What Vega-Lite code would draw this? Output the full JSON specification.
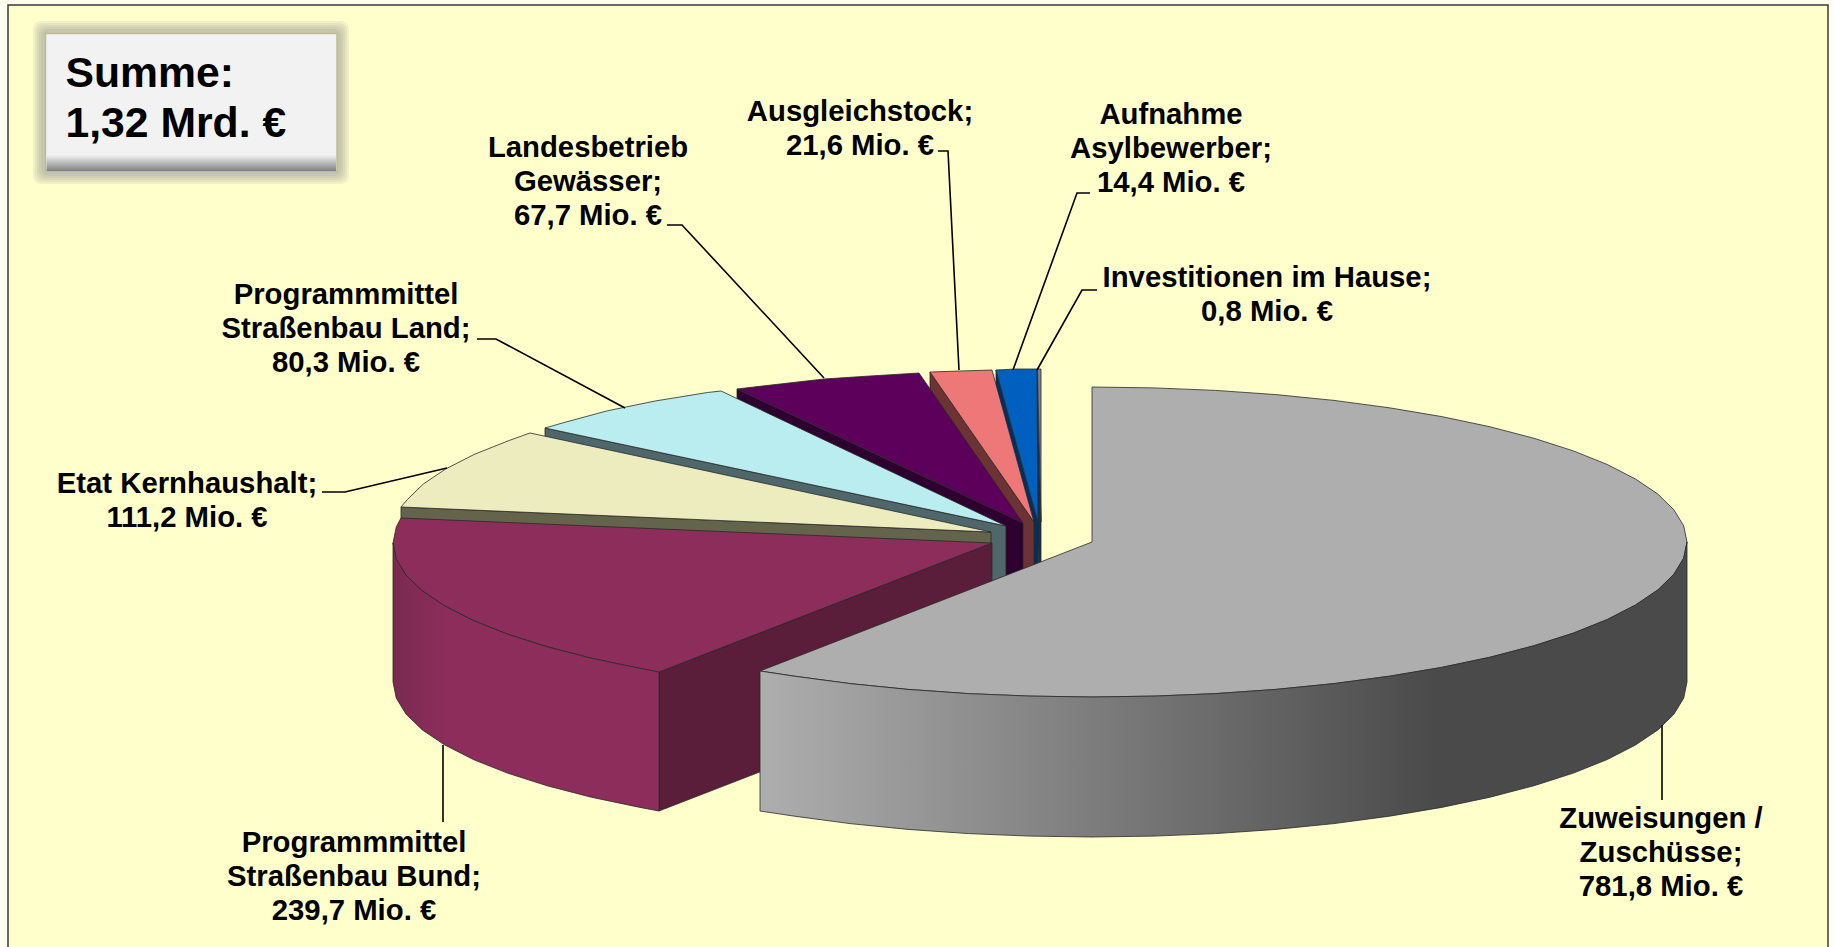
{"$schema":"https://vega.github.io/schema/vega-lite/v6.json","width":1834,"height":947,"padding":0,"autosize":{"type":"none"},"background":"#FFFFF0","view":{"stroke":null},
"datasets":{
"frame":[{"x":8,"x2":1828,"y":5,"y2":960}],
"shadow":[{"x":33,"x2":349,"y":21,"y2":184},{"x":35,"x2":347,"y":23,"y2":182},{"x":37,"x2":345,"y":25,"y2":180},{"x":39,"x2":343,"y":27,"y2":178},{"x":41,"x2":341,"y":29,"y2":176}],
"box":[{"x":45.5,"x2":337,"y":33.5,"y2":171.5}],
"boxFoot":[{"x":46.5,"x2":336,"y":155,"y2":171}],
"faces":[
{"id":"inv-side","i":0,"x":1041,"y":522},{"id":"inv-side","i":1,"x":1037,"y":369},{"id":"inv-side","i":2,"x":1037,"y":509},{"id":"inv-side","i":3,"x":1041,"y":662},{"id":"inv-side","i":4,"x":1041,"y":522},
{"id":"inv-top","i":0,"x":1041,"y":522},{"id":"inv-top","i":1,"x":1037.5,"y":369},{"id":"inv-top","i":2,"x":1041,"y":369},{"id":"inv-top","i":3,"x":1041,"y":522},
{"id":"blue-side","i":0,"x":1038,"y":522},{"id":"blue-side","i":1,"x":996,"y":370},{"id":"blue-side","i":2,"x":996,"y":510},{"id":"blue-side","i":3,"x":1038,"y":662},{"id":"blue-side","i":4,"x":1038,"y":522},
{"id":"blue-top","i":0,"x":1038,"y":522},{"id":"blue-top","i":1,"x":996,"y":370},{"id":"blue-top","i":2,"x":1016,"y":369},{"id":"blue-top","i":3,"x":1037,"y":369},{"id":"blue-top","i":4,"x":1038,"y":522},
{"id":"salmon-side","i":0,"x":1034,"y":522},{"id":"salmon-side","i":1,"x":930,"y":372},{"id":"salmon-side","i":2,"x":930,"y":512},{"id":"salmon-side","i":3,"x":1034,"y":662},{"id":"salmon-side","i":4,"x":1034,"y":522},
{"id":"salmon-top","i":0,"x":1034,"y":522},{"id":"salmon-top","i":1,"x":930,"y":372},{"id":"salmon-top","i":2,"x":960,"y":371},{"id":"salmon-top","i":3,"x":992,"y":370},{"id":"salmon-top","i":4,"x":1034,"y":522},
{"id":"purple-side","i":0,"x":1023,"y":523},{"id":"purple-side","i":1,"x":737,"y":389},{"id":"purple-side","i":2,"x":737,"y":529},{"id":"purple-side","i":3,"x":1023,"y":663},{"id":"purple-side","i":4,"x":1023,"y":523},
{"id":"purple-top","i":0,"x":1023,"y":523},{"id":"purple-top","i":1,"x":737,"y":389},{"id":"purple-top","i":2,"x":780,"y":384},{"id":"purple-top","i":3,"x":824,"y":379},{"id":"purple-top","i":4,"x":870,"y":376},{"id":"purple-top","i":5,"x":919,"y":373},{"id":"purple-top","i":6,"x":1023,"y":523},
{"id":"cyan-side","i":0,"x":1006,"y":526},{"id":"cyan-side","i":1,"x":545,"y":428},{"id":"cyan-side","i":2,"x":545,"y":568},{"id":"cyan-side","i":3,"x":1006,"y":666},{"id":"cyan-side","i":4,"x":1006,"y":526},
{"id":"cyan-top","i":0,"x":1006,"y":526},{"id":"cyan-top","i":1,"x":545,"y":428},{"id":"cyan-top","i":2,"x":562.4,"y":423},{"id":"cyan-top","i":3,"x":606.6,"y":411},{"id":"cyan-top","i":4,"x":655.1,"y":401},{"id":"cyan-top","i":5,"x":707.5,"y":392.5},{"id":"cyan-top","i":6,"x":721,"y":391},{"id":"cyan-top","i":7,"x":1006,"y":526},
{"id":"beige-side","i":0,"x":991,"y":532},{"id":"beige-side","i":1,"x":401,"y":507},{"id":"beige-side","i":2,"x":401,"y":647},{"id":"beige-side","i":3,"x":991,"y":672},{"id":"beige-side","i":4,"x":991,"y":532},
{"id":"beige-top","i":0,"x":991,"y":532},{"id":"beige-top","i":1,"x":401,"y":507},{"id":"beige-top","i":2,"x":407.1,"y":499.8},{"id":"beige-top","i":3,"x":423.2,"y":484.1},{"id":"beige-top","i":4,"x":445.6,"y":469},{"id":"beige-top","i":5,"x":474,"y":454.5},{"id":"beige-top","i":6,"x":508,"y":440.9},{"id":"beige-top","i":7,"x":530,"y":433},{"id":"beige-top","i":8,"x":991,"y":532},
{"id":"maroon-inner","i":0,"x":992,"y":543},{"id":"maroon-inner","i":1,"x":659,"y":672},{"id":"maroon-inner","i":2,"x":659,"y":811},{"id":"maroon-inner","i":3,"x":992,"y":682},{"id":"maroon-inner","i":4,"x":992,"y":543},
{"id":"maroon-top","i":0,"x":992,"y":543},{"id":"maroon-top","i":1,"x":401,"y":518},{"id":"maroon-top","i":2,"x":396.3,"y":526.8},{"id":"maroon-top","i":3,"x":393,"y":543},{"id":"maroon-top","i":4,"x":396.3,"y":559.2},{"id":"maroon-top","i":5,"x":406.1,"y":575.2},{"id":"maroon-top","i":6,"x":422.3,"y":590.9},{"id":"maroon-top","i":7,"x":444.8,"y":606},{"id":"maroon-top","i":8,"x":473.3,"y":620.5},{"id":"maroon-top","i":9,"x":507.4,"y":634.1},{"id":"maroon-top","i":10,"x":546.9,"y":646.7},{"id":"maroon-top","i":11,"x":591.2,"y":658.2},{"id":"maroon-top","i":12,"x":639.9,"y":668.4},{"id":"maroon-top","i":13,"x":659,"y":672},{"id":"maroon-top","i":14,"x":992,"y":543},
{"id":"gray-top","i":0,"x":1092,"y":542},{"id":"gray-top","i":1,"x":1092,"y":387},{"id":"gray-top","i":2,"x":1154.2,"y":387.9},{"id":"gray-top","i":3,"x":1215.7,"y":390.4},{"id":"gray-top","i":4,"x":1275.9,"y":394.6},{"id":"gray-top","i":5,"x":1334,"y":400.4},{"id":"gray-top","i":6,"x":1389.5,"y":407.8},{"id":"gray-top","i":7,"x":1441.7,"y":416.6},{"id":"gray-top","i":8,"x":1490.1,"y":426.8},{"id":"gray-top","i":9,"x":1534.1,"y":438.3},{"id":"gray-top","i":10,"x":1573.4,"y":450.9},{"id":"gray-top","i":11,"x":1607.3,"y":464.5},{"id":"gray-top","i":12,"x":1635.5,"y":479},{"id":"gray-top","i":13,"x":1657.9,"y":494.1},{"id":"gray-top","i":14,"x":1673.9,"y":509.8},{"id":"gray-top","i":15,"x":1683.7,"y":525.8},{"id":"gray-top","i":16,"x":1687,"y":542},{"id":"gray-top","i":17,"x":1683.7,"y":558.2},{"id":"gray-top","i":18,"x":1673.9,"y":574.2},{"id":"gray-top","i":19,"x":1657.9,"y":589.9},{"id":"gray-top","i":20,"x":1635.5,"y":605},{"id":"gray-top","i":21,"x":1607.3,"y":619.5},{"id":"gray-top","i":22,"x":1573.4,"y":633.1},{"id":"gray-top","i":23,"x":1534.1,"y":645.7},{"id":"gray-top","i":24,"x":1490.1,"y":657.2},{"id":"gray-top","i":25,"x":1441.7,"y":667.4},{"id":"gray-top","i":26,"x":1389.5,"y":676.2},{"id":"gray-top","i":27,"x":1334,"y":683.6},{"id":"gray-top","i":28,"x":1275.9,"y":689.4},{"id":"gray-top","i":29,"x":1215.7,"y":693.6},{"id":"gray-top","i":30,"x":1154.2,"y":696.1},{"id":"gray-top","i":31,"x":1092,"y":697},{"id":"gray-top","i":32,"x":1029.8,"y":696.1},{"id":"gray-top","i":33,"x":968.3,"y":693.6},{"id":"gray-top","i":34,"x":908.1,"y":689.4},{"id":"gray-top","i":35,"x":850,"y":683.6},{"id":"gray-top","i":36,"x":794.5,"y":676.2},{"id":"gray-top","i":37,"x":760,"y":671},{"id":"gray-top","i":38,"x":1092,"y":542}
],
"maroonOuter":[
{"i":0,"x":393,"y":543},{"i":1,"x":396.3,"y":559.2},{"i":2,"x":406.1,"y":575.2},{"i":3,"x":422.3,"y":590.9},{"i":4,"x":444.8,"y":606},{"i":5,"x":473.3,"y":620.5},{"i":6,"x":507.4,"y":634.1},{"i":7,"x":546.9,"y":646.7},{"i":8,"x":591.2,"y":658.2},{"i":9,"x":639.9,"y":668.4},{"i":10,"x":659,"y":672},{"i":11,"x":659,"y":811},{"i":12,"x":639.9,"y":807.4},{"i":13,"x":591.2,"y":797.2},{"i":14,"x":546.9,"y":785.7},{"i":15,"x":507.4,"y":773.1},{"i":16,"x":473.3,"y":759.5},{"i":17,"x":444.8,"y":745},{"i":18,"x":422.3,"y":729.9},{"i":19,"x":406.1,"y":714.2},{"i":20,"x":396.3,"y":698.2},{"i":21,"x":393,"y":682},{"i":22,"x":393,"y":543}
],
"grayOuter":[
{"i":0,"x":1687,"y":542},{"i":1,"x":1683.7,"y":558.2},{"i":2,"x":1673.9,"y":574.2},{"i":3,"x":1657.9,"y":589.9},{"i":4,"x":1635.5,"y":605},{"i":5,"x":1607.3,"y":619.5},{"i":6,"x":1573.4,"y":633.1},{"i":7,"x":1534.1,"y":645.7},{"i":8,"x":1490.1,"y":657.2},{"i":9,"x":1441.7,"y":667.4},{"i":10,"x":1389.5,"y":676.2},{"i":11,"x":1334,"y":683.6},{"i":12,"x":1275.9,"y":689.4},{"i":13,"x":1215.7,"y":693.6},{"i":14,"x":1154.2,"y":696.1},{"i":15,"x":1092,"y":697},{"i":16,"x":1029.8,"y":696.1},{"i":17,"x":968.3,"y":693.6},{"i":18,"x":908.1,"y":689.4},{"i":19,"x":850,"y":683.6},{"i":20,"x":794.5,"y":676.2},{"i":21,"x":760,"y":671},{"i":22,"x":760,"y":811},{"i":23,"x":794.5,"y":816.2},{"i":24,"x":850,"y":823.6},{"i":25,"x":908.1,"y":829.4},{"i":26,"x":968.3,"y":833.6},{"i":27,"x":1029.8,"y":836.1},{"i":28,"x":1092,"y":837},{"i":29,"x":1154.2,"y":836.1},{"i":30,"x":1215.7,"y":833.6},{"i":31,"x":1275.9,"y":829.4},{"i":32,"x":1334,"y":823.6},{"i":33,"x":1389.5,"y":816.2},{"i":34,"x":1441.7,"y":807.4},{"i":35,"x":1490.1,"y":797.2},{"i":36,"x":1534.1,"y":785.7},{"i":37,"x":1573.4,"y":773.1},{"i":38,"x":1607.3,"y":759.5},{"i":39,"x":1635.5,"y":745},{"i":40,"x":1657.9,"y":729.9},{"i":41,"x":1673.9,"y":714.2},{"i":42,"x":1683.7,"y":698.2},{"i":43,"x":1687,"y":682},{"i":44,"x":1687,"y":542}
],
"leaders":[
{"k":"a","i":0,"x":1662,"y":725},{"k":"a","i":1,"x":1662,"y":800},
{"k":"b","i":0,"x":443,"y":745},{"k":"b","i":1,"x":443,"y":822},
{"k":"c","i":0,"x":322,"y":492},{"k":"c","i":1,"x":345,"y":492},{"k":"c","i":2,"x":447,"y":468},
{"k":"d","i":0,"x":477,"y":339},{"k":"d","i":1,"x":496,"y":339},{"k":"d","i":2,"x":625,"y":408},
{"k":"e","i":0,"x":667,"y":225},{"k":"e","i":1,"x":682,"y":225},{"k":"e","i":2,"x":824,"y":378},
{"k":"f","i":0,"x":938,"y":151},{"k":"f","i":1,"x":948,"y":151},{"k":"f","i":2,"x":959,"y":370},
{"k":"g","i":0,"x":1090,"y":193},{"k":"g","i":1,"x":1077,"y":193},{"k":"g","i":2,"x":1013,"y":370},
{"k":"h","i":0,"x":1097,"y":290},{"k":"h","i":1,"x":1082,"y":290},{"k":"h","i":2,"x":1037,"y":370}
],
"labels":[
{"name":"Zuweisungen / Zuschüsse","value":781.8,"label":"Zuweisungen /\nZuschüsse;\n781,8 Mio. €","x":1661,"y":819},
{"name":"Programmmittel Straßenbau Bund","value":239.7,"label":"Programmmittel\nStraßenbau Bund;\n239,7 Mio. €","x":354,"y":842.5},
{"name":"Etat Kernhaushalt","value":111.2,"label":"Etat Kernhaushalt;\n111,2 Mio. €","x":187,"y":483.5},
{"name":"Programmmittel Straßenbau Land","value":80.3,"label":"Programmmittel\nStraßenbau Land;\n80,3 Mio. €","x":346,"y":295},
{"name":"Landesbetrieb Gewässer","value":67.7,"label":"Landesbetrieb\nGewässer;\n67,7 Mio. €","x":588,"y":147.5},
{"name":"Ausgleichstock","value":21.6,"label":"Ausgleichstock;\n21,6 Mio. €","x":860,"y":111.5},
{"name":"Aufnahme Asylbewerber","value":14.4,"label":"Aufnahme\nAsylbewerber;\n14,4 Mio. €","x":1171,"y":114.5},
{"name":"Investitionen im Hause","value":0.8,"label":"Investitionen im Hause;\n0,8 Mio. €","x":1267,"y":277.5}
],
"total":[{"label":"Summe:\n1,32 Mrd. €","x":65.5,"y":74}]
},
"encoding":{
"x":{"field":"x","type":"quantitative","scale":{"domain":[0,1834],"nice":false,"zero":false},"axis":null},
"y":{"field":"y","type":"quantitative","scale":{"domain":[947,0],"nice":false,"zero":false},"axis":null}
},
"layer":[
{"data":{"name":"frame"},"mark":{"type":"rect","fill":"#FFFFCC","stroke":"#3A3A3A","strokeWidth":1.5},"encoding":{"x2":{"field":"x2"},"y2":{"field":"y2"}}},
{"data":{"name":"shadow"},"mark":{"type":"rect","fill":"#8A8A8A","opacity":0.12,"cornerRadius":8},"encoding":{"x2":{"field":"x2"},"y2":{"field":"y2"}}},
{"data":{"name":"box"},"mark":{"type":"rect","fill":"#F2F2F2","stroke":"#BDBD8F","strokeWidth":1.5},"encoding":{"x2":{"field":"x2"},"y2":{"field":"y2"}}},
{"data":{"name":"boxFoot"},"mark":{"type":"rect","fill":{"x1":0,"y1":0,"x2":0,"y2":1,"gradient":"linear","stops":[{"offset":0,"color":"#F2F2F2"},{"offset":1,"color":"#808080"}]}},"encoding":{"x2":{"field":"x2"},"y2":{"field":"y2"}}},
{"data":{"name":"faces"},"mark":{"type":"line","filled":true,"stroke":"#2A2A2A","strokeWidth":0.8,"strokeJoin":"miter"},"encoding":{
"color":{"field":"id","type":"nominal","legend":null,"scale":{"domain":["inv-side","inv-top","blue-side","blue-top","salmon-side","salmon-top","purple-side","purple-top","cyan-side","cyan-top","beige-side","beige-top","maroon-inner","maroon-top","gray-top"],"range":["#12304F","#7F7F8C","#00305F","#0060BF","#6B3333","#EE7777","#2D0030","#5C005C","#4F666A","#BAEDF0","#64634C","#ECECBE","#5A1D3A","#8C2D5B","#AEAEAE"]}},
"detail":{"field":"id"},"order":{"field":"i","type":"quantitative"}}},
{"data":{"name":"maroonOuter"},"mark":{"type":"line","filled":true,"stroke":"#2A2A2A","strokeWidth":0.8,"fill":{"x1":0,"y1":0,"x2":1,"y2":0,"gradient":"linear","stops":[{"offset":0,"color":"#7A2A50"},{"offset":0.2,"color":"#8C2D5B"},{"offset":1,"color":"#8C2D5B"}]}},"encoding":{"order":{"field":"i","type":"quantitative"}}},
{"data":{"name":"grayOuter"},"mark":{"type":"line","filled":true,"stroke":"#2A2A2A","strokeWidth":0.8,"fill":{"x1":0,"y1":0,"x2":1,"y2":0,"gradient":"linear","stops":[{"offset":0,"color":"#AEAEAE"},{"offset":0.73,"color":"#4A4A4A"},{"offset":1,"color":"#4A4A4A"}]}},"encoding":{"order":{"field":"i","type":"quantitative"}}},
{"data":{"name":"leaders"},"mark":{"type":"line","color":"#000000","strokeWidth":1.6},"encoding":{"detail":{"field":"k"},"order":{"field":"i","type":"quantitative"}}},
{"data":{"name":"labels"},"mark":{"type":"text","font":"Liberation Sans","fontWeight":"bold","fontSize":29.3,"lineHeight":34,"lineBreak":"\n","align":"center","baseline":"middle","color":"#000000"},"encoding":{"text":{"field":"label"}}},
{"data":{"name":"total"},"mark":{"type":"text","font":"Liberation Sans","fontWeight":"bold","fontSize":42.7,"lineHeight":50,"lineBreak":"\n","align":"left","baseline":"middle","color":"#000000"},"encoding":{"text":{"field":"label"}}}
]}
